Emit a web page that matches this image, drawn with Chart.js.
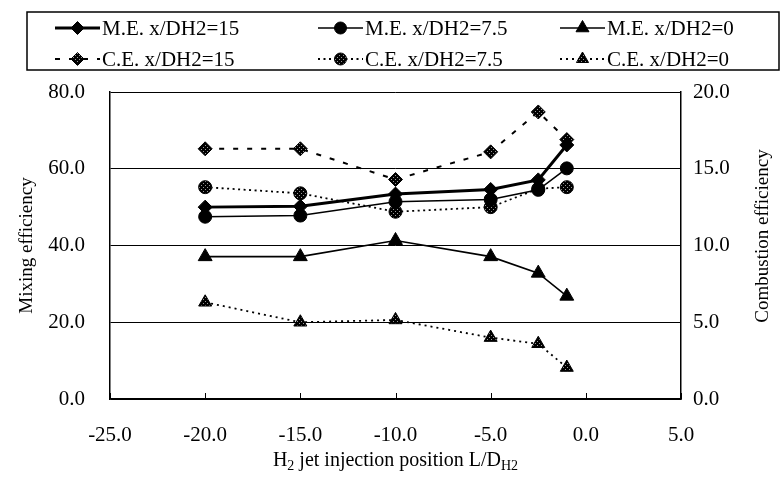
<!DOCTYPE html>
<html>
<head>
<meta charset="utf-8">
<script src="https://cdn.jsdelivr.net/npm/chart.js@4.4.0/dist/chart.umd.min.js"></script>
<style>
  html, body { margin: 0; padding: 0; background: #fff; }
  #wrap { width: 780px; height: 479px; }
</style>
</head>
<body>
<div id="wrap"><canvas id="chart"></canvas></div>
<script>
// H2 jet injection position L/DH2
const positions = [-20, -15, -10, -5, -2.5, -1];

// mixing efficiency (left axis)
const me15 = [50.0, 50.2, 53.4, 54.6, 57.1, 66.2];
const me75 = [47.5, 47.8, 51.4, 52.0, 54.5, 60.1];
const me0  = [37.1, 37.1, 41.3, 37.1, 32.8, 26.8];

// combustion efficiency (right axis)
const ce15 = [16.3, 16.3, 14.3, 16.1, 18.7, 16.9];
const ce75 = [13.8, 13.4, 12.2, 12.5, 13.7, 13.8];
const ce0  = [6.3, 5.0, 5.15, 4.0, 3.6, 2.05];

const xTicks = [-25, -20, -15, -10, -5, 0, 5];

const serif = '"Liberation Serif", "Times New Roman", serif';

function pts(vals) {
  return positions.map((x, i) => ({ x: x, y: vals[i] }));
}

// speckled fill for the C.E. markers
function speckle() {
  const c = document.createElement('canvas');
  c.width = 4; c.height = 4;
  const g = c.getContext('2d');
  g.fillStyle = '#000';
  g.fillRect(0, 0, 4, 4);
  g.fillStyle = '#999';
  g.fillRect(1, 1, 1, 1);
  g.fillRect(3, 3, 1, 1);
  return g.createPattern(c, 'repeat');
}
const dots = speckle();

function series(label, vals, axis, style, radius, width, dash, fill) {
  return {
    label: label,
    data: pts(vals),
    yAxisID: axis,
    borderColor: '#000',
    borderWidth: width,
    borderDash: dash,
    pointStyle: style,
    pointRadius: radius,
    pointBackgroundColor: fill,
    pointBorderColor: '#000',
    pointBorderWidth: 1,
    tension: 0,
    fill: false
  };
}

const datasets = [
  series('M.E. x/DH2=15', me15, 'y', 'rectRot', 7, 3, [], '#000'),
  series('M.E. x/DH2=7.5', me75, 'y', 'circle', 6.5, 1.6, [], '#000'),
  series('M.E. x/DH2=0', me0, 'y', 'triangle', 8, 1.6, [], '#000'),
  series('C.E. x/DH2=15', ce15, 'y2', 'rectRot', 7, 2, [5, 9], dots),
  series('C.E. x/DH2=7.5', ce75, 'y2', 'circle', 6.5, 1.8, [2, 3.5], dots),
  series('C.E. x/DH2=0', ce0, 'y2', 'triangle', 7.5, 1.8, [2, 4], dots)
];

// legend grid: 3 columns x 2 rows inside a box
const legendCols = [55, 318, 560];
const legendRows = [28, 59];

const decor = {
  id: 'decor',
  afterDraw(chart) {
    const ctx = chart.ctx;
    const xs = chart.scales.x;
    const area = chart.chartArea;
    ctx.save();

    // inward ticks on the x axis
    ctx.strokeStyle = '#000';
    ctx.lineWidth = 1;
    xTicks.forEach(v => {
      const px = Math.round(xs.getPixelForValue(v)) + 0.5;
      ctx.beginPath();
      ctx.moveTo(px, area.bottom);
      ctx.lineTo(px, area.bottom - 6);
      ctx.stroke();
    });

    // legend box
    ctx.lineWidth = 1.5;
    ctx.strokeRect(27, 12, 752, 58);

    ctx.font = '21px ' + serif;
    ctx.textBaseline = 'middle';
    ctx.textAlign = 'left';
    chart.data.datasets.forEach((ds, i) => {
      const x0 = legendCols[i % 3];
      const y0 = legendRows[Math.floor(i / 3)];
      ctx.strokeStyle = '#000';
      ctx.lineWidth = ds.borderWidth;
      ctx.setLineDash(ds.borderDash);
      ctx.beginPath();
      ctx.moveTo(x0, y0);
      ctx.lineTo(x0 + 45, y0);
      ctx.stroke();
      ctx.setLineDash([]);
      ctx.fillStyle = ds.pointBackgroundColor;
      ctx.lineWidth = 1;
      Chart.helpers.drawPoint(ctx, {
        pointStyle: ds.pointStyle,
        radius: ds.pointRadius - 0.5,
        rotation: 0,
        borderWidth: 1
      }, x0 + 22.5, y0);
      ctx.fillStyle = '#000';
      ctx.fillText(ds.label, x0 + 47, y0 + 1);
    });

    // x axis title with subscripts
    const parts = [
      ['H', false], ['2', true], [' jet injection position L/D', false], ['H2', true]
    ];
    const big = '20px ' + serif, small = '14px ' + serif;
    let total = 0;
    parts.forEach(p => { ctx.font = p[1] ? small : big; total += ctx.measureText(p[0]).width; });
    let cx = (area.left + area.right) / 2 - total / 2;
    ctx.textBaseline = 'alphabetic';
    parts.forEach(p => {
      ctx.font = p[1] ? small : big;
      ctx.fillText(p[0], cx, p[1] ? 470 : 466);
      cx += ctx.measureText(p[0]).width;
    });

    // right axis title, reading bottom to top
    ctx.translate(763, 236);
    ctx.rotate(-Math.PI / 2);
    ctx.font = '19px ' + serif;
    ctx.textAlign = 'center';
    ctx.textBaseline = 'middle';
    ctx.fillText('Combustion efficiency', 0, 0);
    ctx.restore();
  }
};

const tickFont = { family: serif, size: 21 };

new Chart(document.getElementById('chart'), {
  type: 'line',
  data: { datasets: datasets },
  options: {
    responsive: true,
    maintainAspectRatio: false,
    animation: false,
    layout: { padding: { top: 92, left: 0, right: 0, bottom: 0 } },
    plugins: {
      legend: { display: false },
      tooltip: { enabled: false }
    },
    scales: {
      x: {
        type: 'linear',
        min: -25,
        max: 5,
        afterFit: s => { s.height = 80; },
        ticks: {
          stepSize: 5,
          color: '#000',
          font: tickFont,
          padding: 24,
          maxRotation: 0,
          callback: v => v.toFixed(1)
        },
        grid: { display: false, drawTicks: false },
        border: { display: true, color: '#000', width: 1.5 }
      },
      y: {
        position: 'left',
        min: 0,
        max: 80,
        afterFit: s => { s.width = 110; },
        ticks: {
          stepSize: 20,
          color: '#000',
          font: tickFont,
          padding: 25,
          callback: v => v.toFixed(1)
        },
        grid: { color: '#000', lineWidth: 1, drawTicks: false },
        border: { display: true, color: '#000', width: 1.5 },
        title: {
          display: true,
          text: 'Mixing efficiency',
          color: '#000',
          font: { family: serif, size: 19 },
          padding: { top: 16, bottom: 0 }
        }
      },
      y2: {
        position: 'right',
        min: 0,
        max: 20,
        afterFit: s => { s.width = 99; },
        ticks: {
          stepSize: 5,
          color: '#000',
          font: tickFont,
          padding: 12,
          callback: v => v.toFixed(1)
        },
        grid: { display: false, drawTicks: false },
        border: { display: true, color: '#000', width: 1.5 }
      }
    }
  },
  plugins: [decor]
});
</script>
</body>
</html>
